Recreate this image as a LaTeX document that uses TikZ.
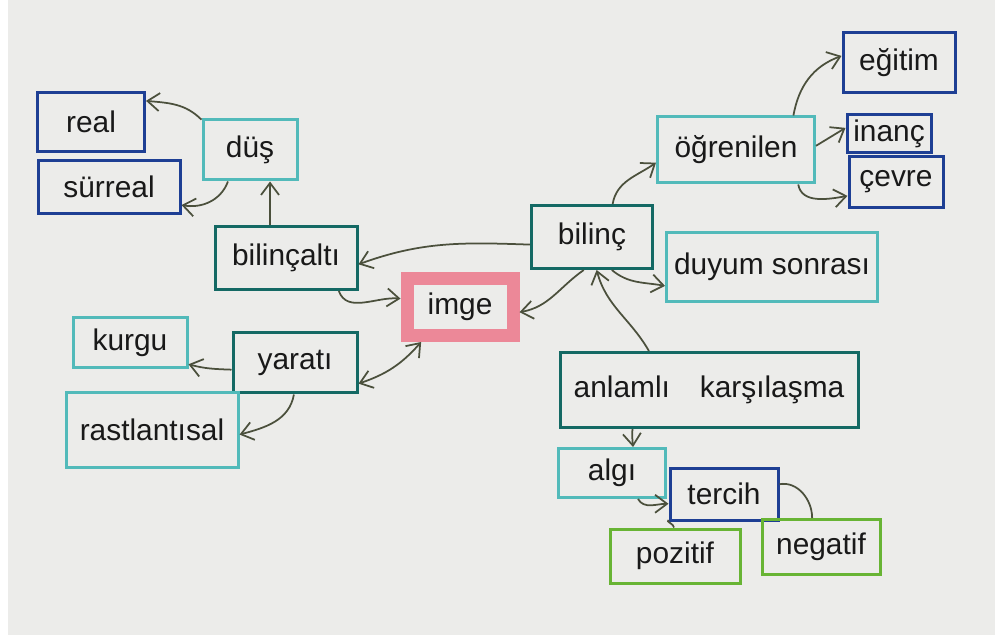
\documentclass[tikz,border=0pt]{standalone}
\usepackage{fontspec}
\setmainfont{Liberation Sans}
\usetikzlibrary{arrows.meta}

\definecolor{paper}{RGB}{236,236,234}
\definecolor{inkblue}{RGB}{30,63,148}
\definecolor{darkteal}{RGB}{20,105,100}
\definecolor{lightteal}{RGB}{82,186,186}
\definecolor{inkgreen}{RGB}{104,180,52}
\definecolor{marker}{RGB}{236,112,132}
\definecolor{pencil}{RGB}{75,80,60}

\tikzset{
  box/.style={draw, rectangle, line width=0.06cm, inner sep=0pt,
    font=\fontsize{17}{20}\selectfont, text=black!90},
  bluebox/.style={box, draw=inkblue},
  darkbox/.style={box, draw=darkteal},
  lightbox/.style={box, draw=lightteal},
  greenbox/.style={box, draw=inkgreen},
  link/.style={draw=pencil, line width=0.035cm, -{Straight Barb[length=2.4mm,width=3.6mm]}},
  plain/.style={draw=pencil, line width=0.035cm}
}

\begin{document}
\begin{tikzpicture}
                    \useasboundingbox (0,0) rectangle (19.900000,12.700000);
                    \fill [paper] (0,0) rectangle (19.900000,12.700000);
                    \fill [white] (0,0) rectangle (0.160000,12.700000);

                    % Centre word, highlighted in red marker
                    \node [box, draw=marker, draw opacity=0.8, line width=0.26cm, outer sep=0.13cm,
                      minimum width=2.120000cm, minimum height=1.140000cm] (imge) at (9.200000,6.560000) {imge};%

                    % Left branch: bilincalti and dus
                    \node [darkbox, minimum width=2.840000cm, minimum height=1.260000cm] (bilincalti) at (5.720000,7.540000) {bilinçaltı};%
                    \node [lightbox, minimum width=1.880000cm, minimum height=1.200000cm] (dus) at (5.000000,9.700000) {düş};%
                    \node [bluebox, minimum width=2.140000cm, minimum height=1.180000cm] (real) at (1.820000,10.260000) {real};%
                    \node [bluebox, minimum width=2.840000cm, minimum height=1.060000cm] (surreal) at (2.180000,8.960000) {sürreal};%

                    % Left branch: yarati
                    \node [darkbox, minimum width=2.480000cm, minimum height=1.200000cm] (yarati) at (5.900000,5.440000) {yaratı};%
                    \node [lightbox, minimum width=2.280000cm, minimum height=1.000000cm] (kurgu) at (2.600000,5.840000) {kurgu};%
                    \node [lightbox, minimum width=3.440000cm, minimum height=1.500000cm] (rastlantisal) at (3.040000,4.100000) {rastlantısal};%

                    % Right branch: bilinc
                    \node [darkbox, minimum width=2.420000cm, minimum height=1.260000cm] (bilinc) at (11.840000,7.960000) {bilinç};%
                    \node [lightbox, minimum width=3.140000cm, minimum height=1.320000cm] (ogrenilen) at (14.720000,9.700000) {öğrenilen};%
                    \node [bluebox, minimum width=2.240000cm, minimum height=1.200000cm] (egitim) at (17.980000,11.440000) {eğitim};%
                    \node [bluebox, minimum width=1.680000cm, minimum height=0.760000cm] (inanc) at (17.780000,10.020000) {inanç};%
                    \node [bluebox, minimum width=1.880000cm, minimum height=1.020000cm] (cevre) at (17.920000,9.060000) {çevre};%
                    \node [lightbox, minimum width=4.220000cm, minimum height=1.380000cm] (duyum) at (15.440000,7.360000) {duyum sonrası};%

                    % Lower right: anlamli karsilasma
                    \node [darkbox, minimum width=5.960000cm, minimum height=1.500000cm] (anlamli) at (14.180000,4.900000) {anlamlı\quad karşılaşma};%
                    \node [lightbox, minimum width=2.140000cm, minimum height=0.980000cm] (algi) at (12.240000,3.240000) {algı};%
                    \node [bluebox, minimum width=2.160000cm, minimum height=1.040000cm] (tercih) at (14.480000,2.820000) {tercih};%
                    \node [greenbox, minimum width=2.600000cm, minimum height=1.080000cm] (pozitif) at (13.500000,1.580000) {pozitif};%
                    \node [greenbox, minimum width=2.360000cm, minimum height=1.100000cm] (negatif) at (16.420000,1.760000) {negatif};%

                    % Drawing arrows of dus
                    \draw [link] (dus.148) to[out=135,in=-5] (real.21);%
                    \draw [link] (dus.235) to[out=250,in=-10] (surreal.-14);%
                    \draw [link] ([xshift=-0.320000cm]bilincalti.north) -- ([xshift=0.400000cm]dus.south);%

                    % Drawing arrows round imge
                    \draw [link] (bilinc.187) to[out=178,in=20] (bilincalti.-5);%
                    \draw [link] (bilincalti.-32) to[out=-70,in=175] (imge.172);%
                    \draw [link] (bilinc.256) to[out=215,in=10] (imge.-5);%
                    \draw [{Straight Barb[length=2.4mm,width=3.6mm]}-{Straight Barb[length=2.4mm,width=3.6mm]}, plain]
                      (yarati.-18) to[bend right=15] (imge.222);%

                    % Drawing arrows of yarati
                    \draw [link] (yarati.186) to[out=178,in=-15] (kurgu.-20);%
                    \draw [link] (yarati.268) to[out=-100,in=15] (rastlantisal.-3);%

                    % Drawing arrows of bilinc
                    \draw [link] (bilinc.58) to[out=80,in=215] (ogrenilen.189);%
                    \draw [link] (bilinc.-59) to[out=-40,in=170] (duyum.190);%
                    \draw [link] (anlamli.147) to[out=120,in=-75] (bilinc.-82);%

                    % Drawing arrows of ogrenilen
                    \draw [link] (ogrenilen.31) to[out=80,in=200] (egitim.173);%
                    \draw [link] (ogrenilen.3) -- (inanc.172);%
                    \draw [link] (ogrenilen.-29) to[out=-80,in=190] (cevre.196);%

                    % Drawing arrows of algi and tercih
                    \draw [link] (anlamli.207) to[out=-95,in=95] (algi.51);%
                    \draw [link] (algi.-45) to[out=-60,in=180] (tercih.190);%
                    \draw [plain] (tercih.205) to[out=210,in=90] (pozitif.92);%
                    \draw [plain] (tercih.10) to[out=10,in=90] (negatif.107);%
\end{tikzpicture}
\end{document}
